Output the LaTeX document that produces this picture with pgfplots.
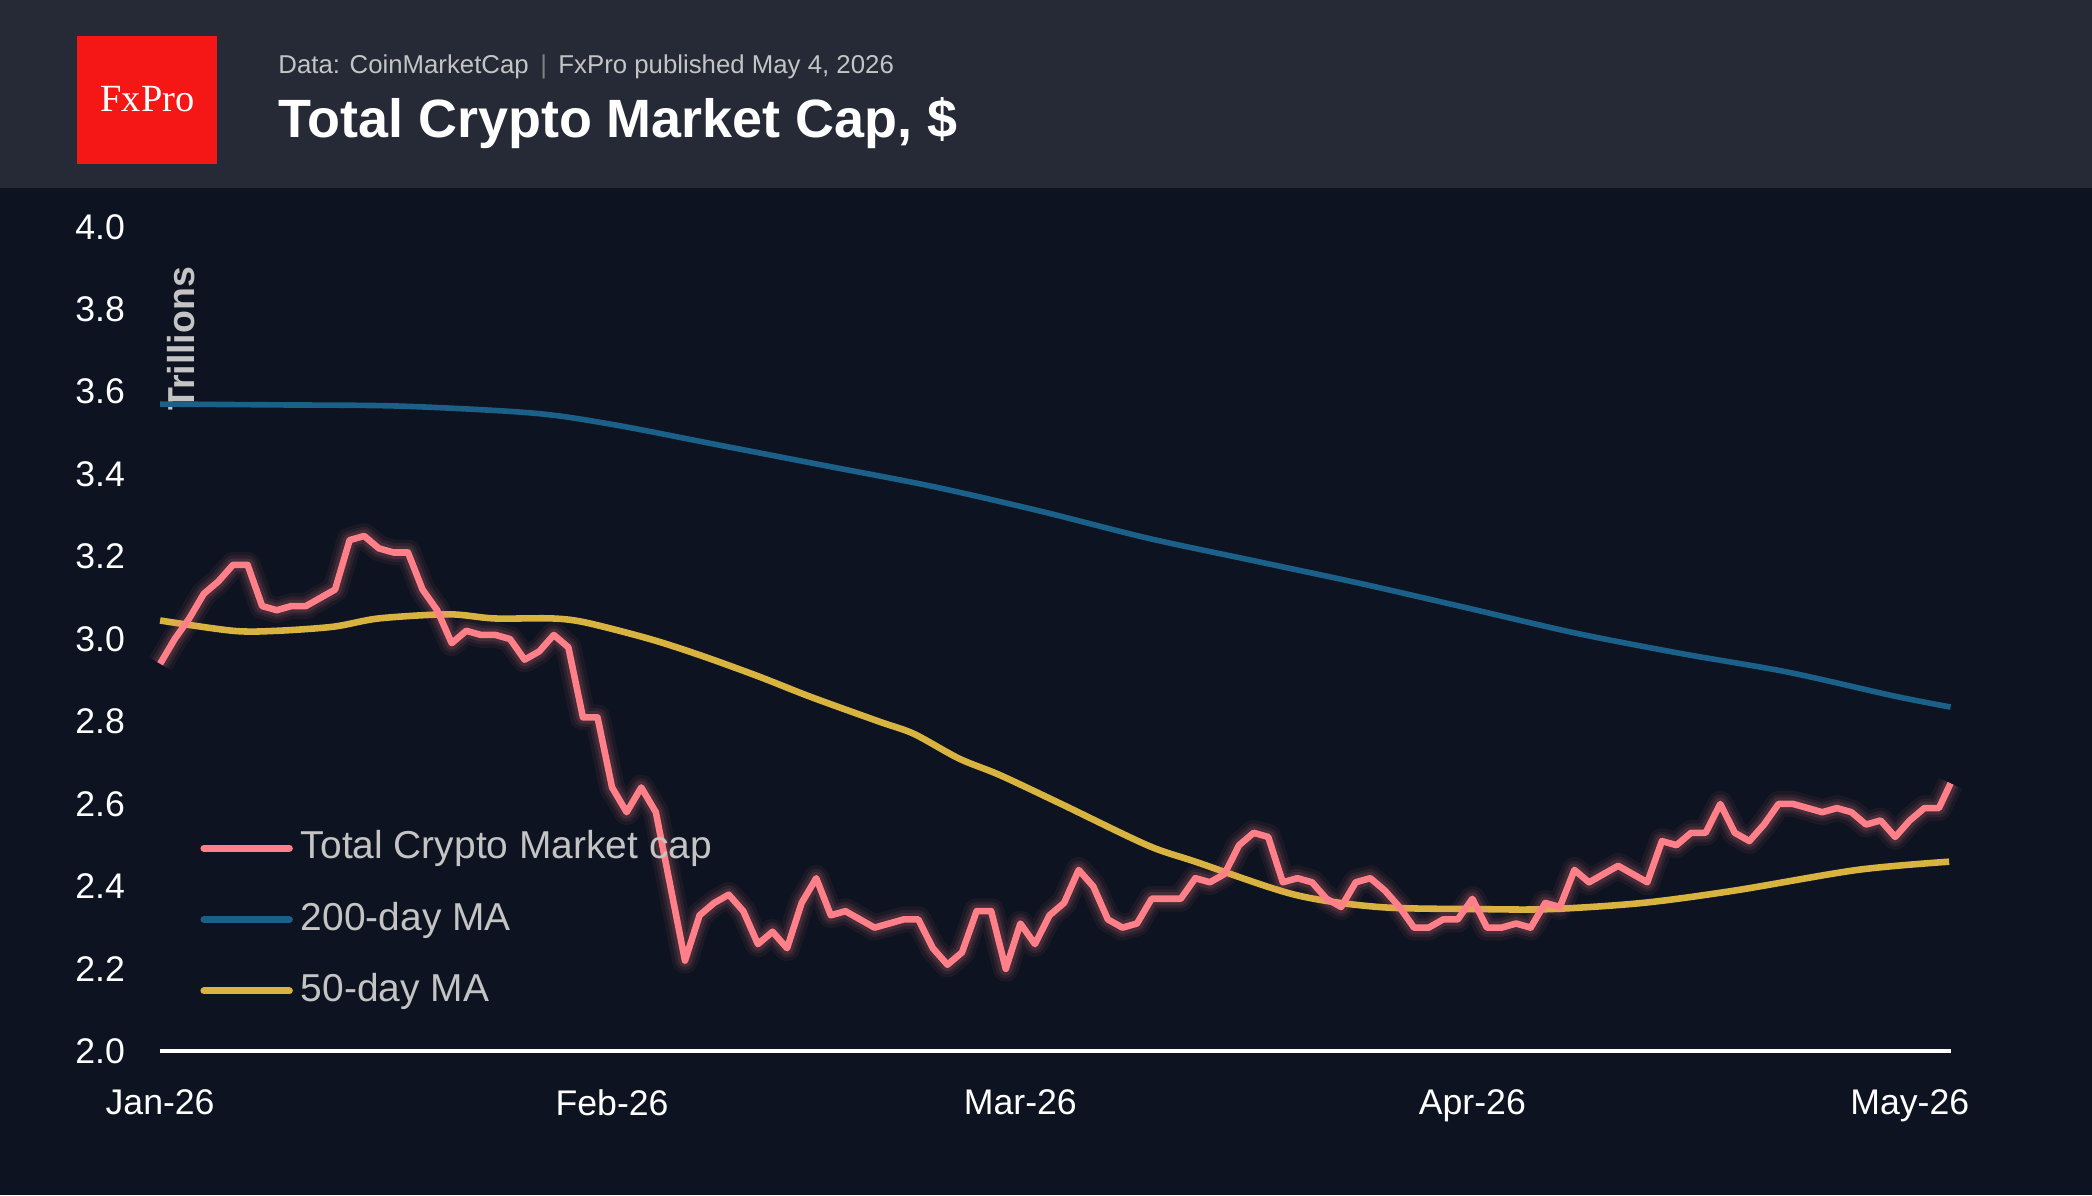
\documentclass[border=0pt]{standalone}
\usepackage{pgfplots}
\usepackage{pgfplotstable}
\pgfplotsset{compat=1.18}
\usepackage{fontspec}
\setmainfont{Liberation Sans}
\newfontfamily\seriffont{Liberation Serif}
\definecolor{bg}{HTML}{0D1320}
\definecolor{hdr}{HTML}{262A36}
\definecolor{pinkc}{HTML}{FF8089}
\definecolor{bluec}{HTML}{1A6088}
\definecolor{yelc}{HTML}{D9B340}
\definecolor{lgray}{HTML}{C4C4C4}
\definecolor{fxred}{HTML}{F51616}
\pgfplotstableread{
d v
0 2.94
1 3.0
2 3.05
3 3.11
4 3.14
5 3.18
6 3.18
7 3.08
8 3.07
9 3.08
10 3.08
11 3.10
12 3.12
13 3.24
14 3.25
15 3.22
16 3.21
17 3.21
18 3.12
19 3.07
20 2.99
21 3.02
22 3.01
23 3.01
24 3.00
25 2.95
26 2.97
27 3.01
28 2.98
29 2.81
30 2.81
31 2.64
32 2.58
33 2.64
34 2.58
35 2.40
36 2.22
37 2.33
38 2.36
39 2.38
40 2.34
41 2.26
42 2.29
43 2.25
44 2.36
45 2.42
46 2.33
47 2.34
48 2.32
49 2.30
50 2.31
51 2.32
52 2.32
53 2.25
54 2.21
55 2.24
56 2.34
57 2.34
58 2.20
59 2.31
60 2.26
61 2.33
62 2.36
63 2.44
64 2.40
65 2.32
66 2.30
67 2.31
68 2.37
69 2.37
70 2.37
71 2.42
72 2.41
73 2.43
74 2.50
75 2.53
76 2.52
77 2.41
78 2.42
79 2.41
80 2.37
81 2.35
82 2.41
83 2.42
84 2.39
85 2.35
86 2.30
87 2.30
88 2.32
89 2.32
90 2.37
91 2.30
92 2.30
93 2.31
94 2.30
95 2.36
96 2.35
97 2.44
98 2.41
99 2.43
100 2.45
101 2.43
102 2.41
103 2.51
104 2.50
105 2.53
106 2.53
107 2.60
108 2.53
109 2.51
110 2.55
111 2.60
112 2.60
113 2.59
114 2.58
115 2.59
116 2.58
117 2.55
118 2.56
119 2.52
120 2.56
121 2.59
122 2.59
122.8 2.65
}\pinkdata
\begin{document}
\begin{tikzpicture}[x=1mm,y=1mm]
\fill[bg] (0,0) rectangle (156.8,89.6);
\fill[hdr] (0,75.5) rectangle (156.8,89.6);
\fill[fxred] (5.8,77.3) rectangle (16.3,86.9);
\node[white,font=\seriffont\fontsize{8.2}{9}\selectfont] at (11.05,82.2) {FxPro};
\node[anchor=base west,text=lgray,font=\fontsize{5.5}{6}\selectfont,inner sep=0] at (20.8,84.1) {Data: CoinMarketCap \textcolor{gray}{\,\textbar\,} FxPro published May 4, 2026};
\node[anchor=base west,white,font=\bfseries\fontsize{11.5}{13}\selectfont,inner sep=0] at (20.8,79.3) {Total Crypto Market Cap, \$};
\node[rotate=90,text=lgray,font=\bfseries\fontsize{8}{9}\selectfont,inner sep=0] at (13.6,64.2) {Trillions};
\begin{axis}[
  at={(12mm,10.8mm)}, anchor=south west, scale only axis,
  width=134.2mm, height=61.8mm,
  xmin=0, xmax=122.8, ymin=2, ymax=4,
  clip=false,
  axis x line*=bottom, axis y line*=left,
  x axis line style={draw=white,line width=0.8pt,-},
  y axis line style={draw=none},
  major tick length=0pt,
  xtick={0,31,59,90,120}, xticklabels={Jan-26,Feb-26,Mar-26,Apr-26,May-26},
  ytick={2,2.2,...,4.01},
  yticklabel style={/pgf/number format/fixed,/pgf/number format/fixed zerofill,/pgf/number format/precision=1,text=white,font=\fontsize{7.6}{8}\selectfont,xshift=-1.4mm},
  /pgf/number format/assume math mode=true,
  xticklabel style={text=white,font=\fontsize{7.6}{8}\selectfont,yshift=-1.6mm},
  legend style={draw=none,fill=none,text=lgray,font=\fontsize{8.3}{9}\selectfont,at={(0.022,0.028)},anchor=south west,row sep=1.3mm,inner xsep=0pt,
    nodes={inner xsep=0.6mm}},
  legend cell align=left,
  legend image code/.code={\draw[#1] (0mm,0mm) -- (6.4mm,0mm);},
]
\addlegendimage{pinkc,line width=1.5pt,line cap=round}
\addlegendentry{Total Crypto Market cap}
\addlegendimage{bluec,line width=1.5pt,line cap=round}
\addlegendentry{200-day MA}
\addlegendimage{yelc,line width=1.5pt,line cap=round}
\addlegendentry{50-day MA}
\addplot[bluec,line width=1.2pt,forget plot,smooth] coordinates {
(0,3.57)(8,3.568)(16.5,3.565)(25.6,3.548)(31.1,3.52)(38.4,3.47)(45.7,3.42)(53,3.37)(60.4,3.31)(67.7,3.245)(75,3.19)(82.3,3.135)(89.7,3.075)(97,3.015)(104.3,2.965)(111.6,2.92)(118.9,2.862)(122.8,2.835)};
\addplot[yelc,line width=1.4pt,forget plot,smooth] coordinates {
(0,3.045)(5,3.02)(8,3.02)(11.9,3.03)(15,3.05)(19.8,3.06)(22.9,3.05)(26.9,3.05)(29.2,3.04)(33.6,3.00)(37.1,2.96)(41,2.91)(44.6,2.86)(49.3,2.80)(51.7,2.77)(54.8,2.71)(57.6,2.67)(61.8,2.60)(67.7,2.50)(71,2.46)(77.8,2.38)(83.6,2.35)(90.4,2.345)(95.4,2.345)(101.7,2.36)(108,2.39)(116.4,2.44)(122.7,2.46)};
\addplot[pinkc,line width=5.5pt,opacity=0.06,forget plot,line join=round] table[x=d,y=v] {\pinkdata};
\addplot[pinkc,line width=4pt,opacity=0.08,forget plot,line join=round] table[x=d,y=v] {\pinkdata};
\addplot[pinkc,line width=2.8pt,opacity=0.12,forget plot,line join=round] table[x=d,y=v] {\pinkdata};
\addplot[pinkc,line width=1.4pt,forget plot,line join=round] table[x=d,y=v] {\pinkdata};
\end{axis}
\end{tikzpicture}
\end{document}
